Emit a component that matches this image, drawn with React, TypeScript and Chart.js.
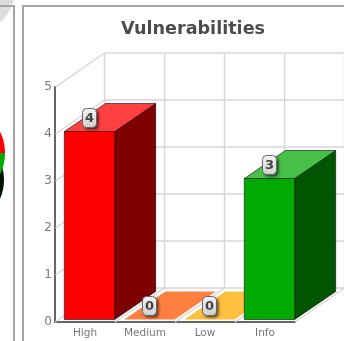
import React, { useEffect, useRef } from "react";
import { Chart, registerables } from "chart.js";

Chart.register(...registerables);

const categories = ["High", "Medium", "Low", "Info"];
const counts = [4, 0, 0, 3];
const frontColors = ["#ff0000", "#ff7f3f", "#ffbf3f", "#00aa00"];
const topColors = ["#ff4040", "#ff7f3f", "#ffbf3f", "#46c046"];
const sideColors = ["#7f0000", "#c05f30", "#c08f30", "#005500"];
const yTicks = [0, 1, 2, 3, 4, 5];

// Neighbouring panel: its pie shows only a sliver at the page edge.
const neighbourShares = [25, 25, 50];
const neighbourColors = ["#ff0000", "#00aa00", "#001a00"];
const neighbourDepth = [1];
const neighbourDepthColors = ["#001500"];
const neighbourBadge = [1];
const neighbourBadgeColors = ["#dcdcdc"];

// Offset of the back wall and of each bar's rear face from the front plane.
const WALL_DX = 49.5;
const WALL_DY = -34;
const BAR_DX = 41;
const BAR_DY = -28;
const BAR_LIFT = -2.5;
const BAR_SHIFT = 4.5;

const GRID = "#d6d6d6";

const depthPlugin = {
  id: "depth",
  beforeDatasetsDraw(chart: any) {
    const { ctx, scales } = chart;
    const x = scales.x;
    const y = scales.y;
    const left = x.left;
    const right = x.right;
    const y0 = y.getPixelForValue(0);
    ctx.save();
    ctx.strokeStyle = GRID;
    ctx.lineWidth = 1.4;
    const line = (a: number, b: number, c: number, d: number) => {
      ctx.beginPath();
      ctx.moveTo(a, b);
      ctx.lineTo(c, d);
      ctx.stroke();
    };
    // back wall and left wall rules
    yTicks.forEach((t) => {
      const py = y.getPixelForValue(t);
      if (t > 0) line(left + 0.5, py, left + WALL_DX, py + WALL_DY);
      line(left + WALL_DX, py + WALL_DY, 344, py + WALL_DY);
    });
    // floor diagonals and back wall verticals
    const step = (right - left) / categories.length;
    for (let i = 0; i <= categories.length; i++) {
      const px = left + step * i;
      line(px, y0, px + WALL_DX, y0 + WALL_DY);
      line(px + WALL_DX, y0 + WALL_DY, px + WALL_DX, y.getPixelForValue(5) + WALL_DY);
    }
    ctx.restore();
  },
  afterDatasetsDraw(chart: any) {
    const { ctx } = chart;
    const meta = chart.getDatasetMeta(0);
    meta.data.forEach((bar: any, i: number) => {
      const half = bar.width / 2;
      const l = bar.x - half + BAR_SHIFT;
      const r = bar.x + half + BAR_SHIFT;
      const top = bar.y + BAR_LIFT;
      const bottom = bar.base + BAR_LIFT;
      ctx.save();
      ctx.lineJoin = "round";
      ctx.lineWidth = 1;
      ctx.strokeStyle = "rgba(0,0,0,0.55)";
      const poly = (pts: number[][], fill: string, stroke = true) => {
        ctx.beginPath();
        pts.forEach((p, k) => (k ? ctx.lineTo(p[0], p[1]) : ctx.moveTo(p[0], p[1])));
        ctx.closePath();
        ctx.fillStyle = fill;
        ctx.fill();
        if (stroke) ctx.stroke();
      };
      if (bottom - top > 1) {
        poly([[r, top], [r + BAR_DX, top + BAR_DY], [r + BAR_DX, bottom + BAR_DY], [r, bottom]], sideColors[i]);
        poly([[l, bottom], [r, bottom], [r, top], [l, top]], frontColors[i]);
      }
      poly([[l, top], [r, top], [r + BAR_DX, top + BAR_DY], [l + BAR_DX, top + BAR_DY]], topColors[i], bottom - top > 1);
      ctx.restore();
    });
    // value badges
    meta.data.forEach((bar: any, i: number) => {
      const cx = bar.x + BAR_SHIFT;
      const cy = bar.y + BAR_LIFT - 13.5;
      const w = 14;
      const h = 19;
      ctx.save();
      ctx.shadowColor = "rgba(0,0,0,0.65)";
      ctx.shadowBlur = 3;
      ctx.shadowOffsetX = 2;
      ctx.shadowOffsetY = 2;
      ctx.beginPath();
      ctx.roundRect(cx - w / 2, cy - h / 2, w, h, 4);
      const g = ctx.createLinearGradient(0, cy - h / 2, 0, cy + h / 2);
      g.addColorStop(0, "#f4f4f4");
      g.addColorStop(1, "#cfcfcf");
      ctx.fillStyle = g;
      ctx.fill();
      ctx.restore();
      ctx.save();
      ctx.beginPath();
      ctx.roundRect(cx - w / 2, cy - h / 2, w, h, 4);
      ctx.strokeStyle = "#666666";
      ctx.lineWidth = 1;
      ctx.stroke();
      ctx.fillStyle = "#444444";
      ctx.font = "bold 13px 'DejaVu Sans'";
      ctx.textAlign = "center";
      ctx.textBaseline = "middle";
      ctx.fillText(String(counts[i]), cx, cy + 0.5);
      ctx.restore();
    });
  },
};

function Panel({ left, top, width }: { left: number; top: number; width: number }) {
  return (
    <div
      style={{
        position: "absolute",
        left,
        top,
        width,
        height: 400,
        boxSizing: "border-box",
        border: "2px solid #a4a4a4",
      }}
    />
  );
}

function SlicePie({
  cx,
  cy,
  r,
  values,
  colors,
}: {
  cx: number;
  cy: number;
  r: number;
  values: number[];
  colors: string[];
}) {
  const ref = useRef<HTMLCanvasElement | null>(null);
  useEffect(() => {
    const chart = new Chart(ref.current as HTMLCanvasElement, {
      type: "pie",
      data: { datasets: [{ data: values, backgroundColor: colors, borderWidth: 0 }] },
      options: {
        responsive: false,
        animation: false,
        plugins: { legend: { display: false }, tooltip: { enabled: false } },
      },
    } as any);
    return () => chart.destroy();
  }, []);
  return (
    <canvas
      ref={ref}
      width={r * 2}
      height={r * 2}
      style={{ position: "absolute", left: cx - r, top: cy - r, display: "block" }}
    />
  );
}

export default function App() {
  const ref = useRef<HTMLCanvasElement | null>(null);

  useEffect(() => {
    const chart = new Chart(ref.current as HTMLCanvasElement, {
      type: "bar",
      data: {
        labels: categories,
        datasets: [
          {
            data: counts,
            backgroundColor: "rgba(0,0,0,0)",
            borderWidth: 0,
            barPercentage: 0.84,
            categoryPercentage: 1,
          },
        ],
      },
      options: {
        responsive: false,
        animation: false,
        plugins: {
          legend: { display: false },
          tooltip: { enabled: false },
          title: {
            display: true,
            text: "Vulnerabilities",
            color: "#4d4d4d",
            font: { family: "'DejaVu Sans'", size: 17.6, weight: "bold" },
            padding: { top: 14, bottom: 0 },
          },
        },
        scales: {
          x: {
            position: "bottom",
            grid: { display: false, drawTicks: true, tickLength: 4, tickColor: "#888888" },
            border: { display: true, color: "#666666", width: 2 },
            ticks: { color: "#777777", font: { family: "'DejaVu Sans'", size: 10.5 }, maxRotation: 0, padding: 1 },
          },
          y: {
            min: 0,
            max: 5,
            afterBuildTicks: (axis: any) => {
              axis.ticks = yTicks.map((value) => ({ value }));
            },
            grid: { display: false, drawTicks: true, tickLength: 3, tickColor: "#666666" },
            border: { display: true, color: "#666666", width: 2 },
            ticks: { color: "#777777", font: { family: "'DejaVu Sans'", size: 12 }, padding: 0 },
          },
        },
      },
      plugins: [
        depthPlugin,
        {
          id: "plotFrame",
          afterLayout(c: any) {
            const x = c.scales.x;
            const y = c.scales.y;
            x.left = 32;
            x.right = 272;
            x.width = 240;
            y.top = 82;
            y.bottom = 317;
            y.height = 235;
            x.top = 317;
            x.bottom = 336;
            y.left = 0;
            y.right = 32;
            c.chartArea.left = 32;
            c.chartArea.right = 272;
            c.chartArea.top = 82;
            c.chartArea.bottom = 317;
            y.configure();
            x.configure();
          },
        },
      ] as any,
    } as any);
    return () => chart.destroy();
  }, []);

  return (
    <div style={{ position: "fixed", left: 0, top: 0, width: 344, height: 341, overflow: "hidden", background: "#fff" }}>
      <SlicePie cx={-30} cy={-11} r={45} values={neighbourBadge} colors={neighbourBadgeColors} />
      <SlicePie cx={-43} cy={180} r={47} values={neighbourDepth} colors={neighbourDepthColors} />
      <SlicePie cx={-42} cy={153} r={47} values={neighbourShares} colors={neighbourColors} />
      <Panel left={-20} top={5} width={35} />
      <Panel left={22} top={5} width={360} />
      <canvas ref={ref} width={340} height={336} style={{ position: "absolute", left: 23, top: 5, display: "block" }} />
    </div>
  );
}
